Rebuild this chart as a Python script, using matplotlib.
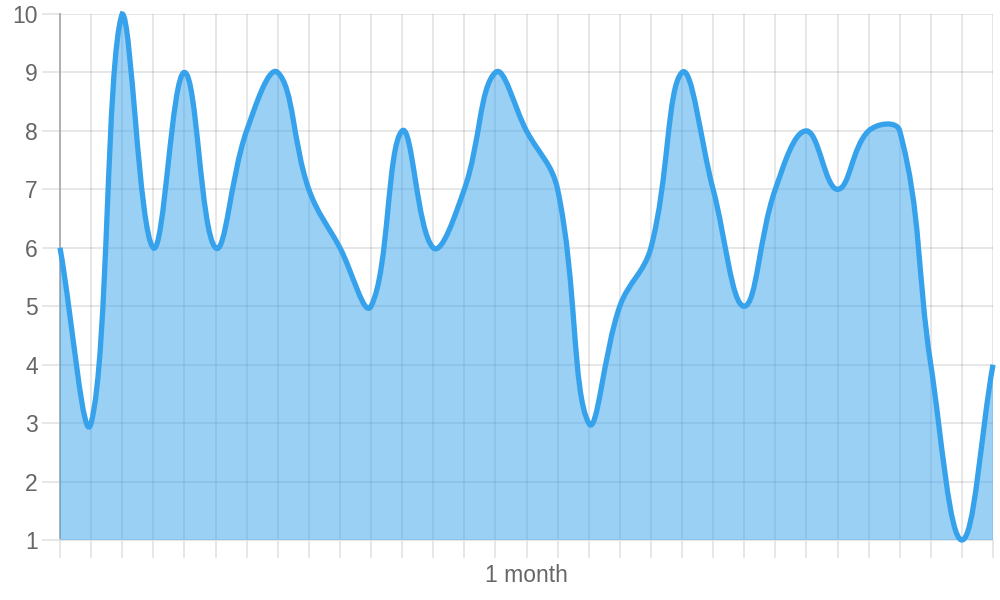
import numpy as np
import matplotlib
matplotlib.use("Agg")
import matplotlib.pyplot as plt
from matplotlib.path import Path
from matplotlib.patches import PathPatch

# one value per day
days = list(range(31))
values = [6, 3, 10, 6, 9, 6, 8, 9, 7, 6, 5, 8, 6, 7, 9, 8, 7, 3, 5, 6,
          9, 7, 5, 7, 8, 7, 8, 8, 4, 1, 4]
y_ticks = [1, 2, 3, 4, 5, 6, 7, 8, 9, 10]
x_label_day = 15
x_label = "1 month"

line_color = "#36A2EB"
fill_color = (54 / 255, 162 / 255, 235 / 255, 0.5)
text_color = "#666666"
grid_color = "#e5e5e5"

plt.rcParams["font.family"] = ["Liberation Sans", "DejaVu Sans"]

fig = plt.figure(figsize=(10, 6), dpi=100)
ax = fig.add_axes([0.06, 0.1, 0.933, 1 - 0.1 - 14 / 600])

xmin, xmax = days[0], days[-1]
ymin, ymax = y_ticks[0], y_ticks[-1]

# bezier control points, like a spline with tension 0.4 (pixel space)
sx = 933 / (xmax - xmin)
sy = 526 / (ymax - ymin)
t = 0.4
x = np.array(days, dtype=float)
y = np.array(values, dtype=float)
n = len(x)
cp_in = np.zeros((n, 2))
cp_out = np.zeros((n, 2))
for i in range(n):
    pi = max(i - 1, 0)
    ni = min(i + 1, n - 1)
    d01 = np.hypot((x[i] - x[pi]) * sx, (y[i] - y[pi]) * sy)
    d12 = np.hypot((x[ni] - x[i]) * sx, (y[ni] - y[i]) * sy)
    tot = d01 + d12
    s01 = d01 / tot if tot else 0
    s12 = d12 / tot if tot else 0
    dx = x[ni] - x[pi]
    dy = y[ni] - y[pi]
    cp_in[i] = (x[i] - t * s01 * dx, y[i] - t * s01 * dy)
    cp_out[i] = (x[i] + t * s12 * dx, y[i] + t * s12 * dy)
cp_in[:, 0] = np.clip(cp_in[:, 0], xmin, xmax)
cp_out[:, 0] = np.clip(cp_out[:, 0], xmin, xmax)
cp_in[:, 1] = np.clip(cp_in[:, 1], ymin, ymax)
cp_out[:, 1] = np.clip(cp_out[:, 1], ymin, ymax)

verts = [(x[0], y[0])]
codes = [Path.MOVETO]
for i in range(n - 1):
    verts += [tuple(cp_out[i]), tuple(cp_in[i + 1]), (x[i + 1], y[i + 1])]
    codes += [Path.CURVE4] * 3

fill_verts = verts + [(xmax, ymin), (xmin, ymin), (xmin, ymin)]
fill_codes = codes + [Path.LINETO, Path.LINETO, Path.CLOSEPOLY]

ax.add_patch(PathPatch(Path(fill_verts, fill_codes), facecolor=fill_color,
                       edgecolor="none", zorder=2))
ax.add_patch(PathPatch(Path(verts, codes), facecolor="none", edgecolor=line_color,
                       linewidth=3.8, zorder=3, clip_on=False))

ax.set_xlim(xmin, xmax)
ax.set_ylim(ymin, ymax)
ax.set_xticks(days)
ax.set_xticklabels([x_label if d == x_label_day else "" for d in days])
ax.set_yticks(y_ticks)
ax.set_yticklabels([str(v) for v in y_ticks])

ax.grid(True, color="black", alpha=0.1, linewidth=1.3, zorder=1)
ax.set_axisbelow(True)
ax.tick_params(axis="both", length=13, width=1.3, color=grid_color,
               labelcolor=text_color, labelsize=16.5)
ax.tick_params(axis="y", pad=3)
ax.tick_params(axis="x", pad=4)

for side in ["top", "right"]:
    ax.spines[side].set_visible(False)
ax.spines["bottom"].set_color(grid_color)
ax.spines["bottom"].set_linewidth(1.3)
ax.spines["left"].set_color("#aaaaaa")
ax.spines["left"].set_linewidth(1.3)
ax.spines["bottom"].set_zorder(1)
ax.spines["left"].set_zorder(1)
ax.xaxis.get_major_ticks()[0].tick1line.set_color("#aaaaaa")

fig.savefig("out.png", dpi=100)
